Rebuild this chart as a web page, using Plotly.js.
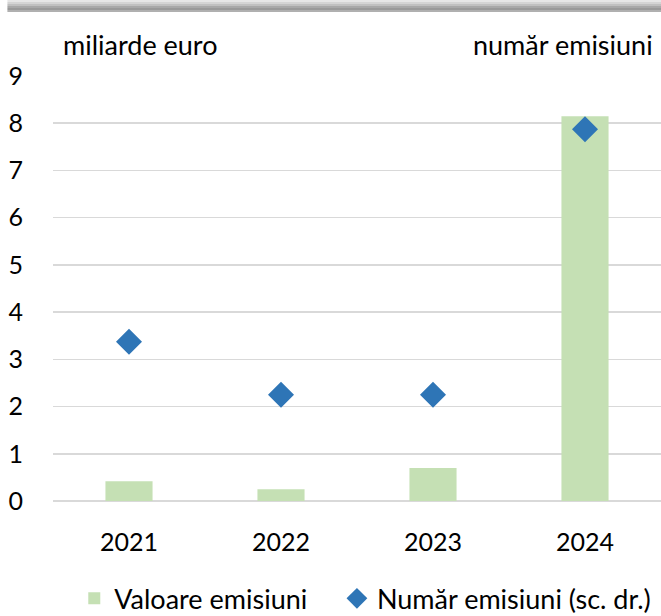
<!DOCTYPE html>
<html>
<head>
<meta charset="utf-8">
<script src="https://cdn.plot.ly/plotly-3.0.1.min.js"></script>
<style>html,body{margin:0;padding:0;background:#fff;}#chart{width:661px;height:616px;}</style>
</head>
<body>
<div id="chart"></div>
<script>
const years = ['2021', '2022', '2023', '2024'];
const valoareEmisiuni = [0.42, 0.25, 0.70, 8.15];   // miliarde euro
const numarEmisiuni = [3, 2, 2, 7];                   // sc. dr.
const yTicks = [0, 1, 2, 3, 4, 5, 6, 7, 8, 9];

const FONT = 'Lato, "Open Sans", sans-serif';

const traces = [
  {
    type: 'bar', name: 'Valoare emisiuni', x: years, y: valoareEmisiuni,
    marker: {color: '#c5e0b4'}, width: 0.31, yaxis: 'y', legend: 'legend'
  },
  {
    type: 'scatter', mode: 'markers', name: 'Număr emisiuni (sc. dr.)',
    x: years, y: numarEmisiuni, yaxis: 'y2', legend: 'legend2',
    marker: {symbol: 'diamond', size: 20, color: '#2e75b6'}
  }
];

const shapes = [];
const bandColors = ['#e6e6e6', '#d4d4d4', '#c0c0c0', '#a8a8a8', '#999999', '#b0b0b0'];
for (let i = 0; i < bandColors.length; i++) {
  shapes.push({type: 'rect', xref: 'paper', yref: 'paper',
    x0: -0.075, x1: 1.0, y0: 1.179 - (i + 1) * 0.0047, y1: 1.179 - i * 0.0047,
    fillcolor: bandColors[i], line: {width: 0}, layer: 'above'});
}

const legendBase = {
  orientation: 'h', xanchor: 'left', y: -0.23, yanchor: 'middle',
  font: {family: FONT, size: 27, color: '#000'},
  itemwidth: 30, bgcolor: 'rgba(0,0,0,0)'
};

const layout = {
  width: 661, height: 616,
  margin: {l: 53, r: 0, t: 76, b: 115, autoexpand: false},
  paper_bgcolor: '#ffffff', plot_bgcolor: '#ffffff',
  font: {family: FONT, size: 25, color: '#000000'},
  showlegend: true,
  bargap: 0.69,
  xaxis: {
    type: 'category', showgrid: false, zeroline: false, showline: false, automargin: false,
    ticks: 'outside', ticklen: 19, tickcolor: 'rgba(0,0,0,0)',
    tickfont: {family: FONT, size: 25, color: '#000'}
  },
  yaxis: {
    range: [0, 9], tickvals: yTicks, ticktext: yTicks.map(String), automargin: false,
    showgrid: true, gridcolor: '#d9d9d9', gridwidth: 1.5,
    zeroline: true, zerolinecolor: '#d9d9d9', zerolinewidth: 1.5,
    showline: false, ticks: 'outside', ticklen: 24, tickcolor: 'rgba(0,0,0,0)',
    tickfont: {family: FONT, size: 25, color: '#000'}
  },
  yaxis2: {
    range: [0, 8], overlaying: 'y', side: 'right', automargin: false,
    showgrid: false, zeroline: false, showticklabels: false, showline: false
  },
  legend: Object.assign({}, legendBase, {x: 0.035}),
  legend2: Object.assign({}, legendBase, {x: 0.467}),
  annotations: [
    {text: 'miliarde euro', xref: 'paper', yref: 'paper', x: 0.013, y: 1.075,
     xanchor: 'left', yanchor: 'middle', showarrow: false,
     font: {family: FONT, size: 27, color: '#000'}},
    {text: 'număr emisiuni', xref: 'paper', yref: 'paper', x: 0.99, y: 1.075,
     xanchor: 'right', yanchor: 'middle', showarrow: false,
     font: {family: FONT, size: 27, color: '#000'}}
  ],
  shapes: shapes
};

Plotly.newPlot('chart', traces, layout, {displayModeBar: false, staticPlot: true});
</script>
</body>
</html>
